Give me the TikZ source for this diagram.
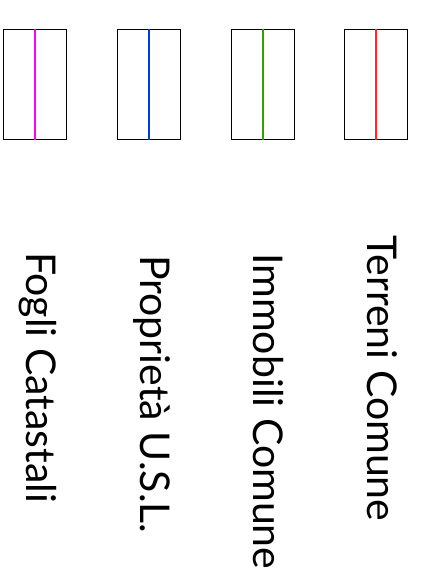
\documentclass[tikz,border=0pt]{standalone}
\usepackage{fontspec}
\setmainfont{Lato}
\usetikzlibrary{positioning}

\definecolor{fogli}{RGB}{255,0,255}
\definecolor{usl}{RGB}{0,60,230}
\definecolor{immobili}{RGB}{50,160,0}
\definecolor{terreni}{RGB}{255,40,40}

\begin{document}
\begin{tikzpicture}[x=1pt,y=-1pt,semithick]
  \tikzstyle{legend box}=[draw=black,line width=1.4pt,minimum width=63pt,minimum height=110pt,inner sep=0pt,anchor=north west]
  \tikzstyle{legend label}=[rotate=-90,anchor=base west,inner sep=0pt,font=\fontsize{41}{46}\selectfont]
  \tikzstyle{legend line}=[line width=1.6pt]
\useasboundingbox (0,0) rectangle (430,570);
\node[legend box] (F) at (2.5,29) {};
\node[legend box] (P) at (116.5,29) {};
\node[legend box] (I) at (230.5,29) {};
\node[legend box] (T) at (343.5,29) {};
\draw[legend line,fogli] (F.north) -- (F.south);
\draw[legend line,usl] (P.north) -- (P.south);
\draw[legend line,immobili] (I.north) -- (I.south);
\draw[legend line,terreni] (T.north) -- (T.south);
\node[legend label] (Flab) at (27,252) {Fogli Catastali};
\node[legend label] (Plab) at (140,255) {Proprietà U.S.L.};
\node[legend label] (Ilab) at (253,253) {Immobili Comune};
\node[legend label] (Tlab) at (367,235) {Terreni Comune};
\end{tikzpicture}
\end{document}
